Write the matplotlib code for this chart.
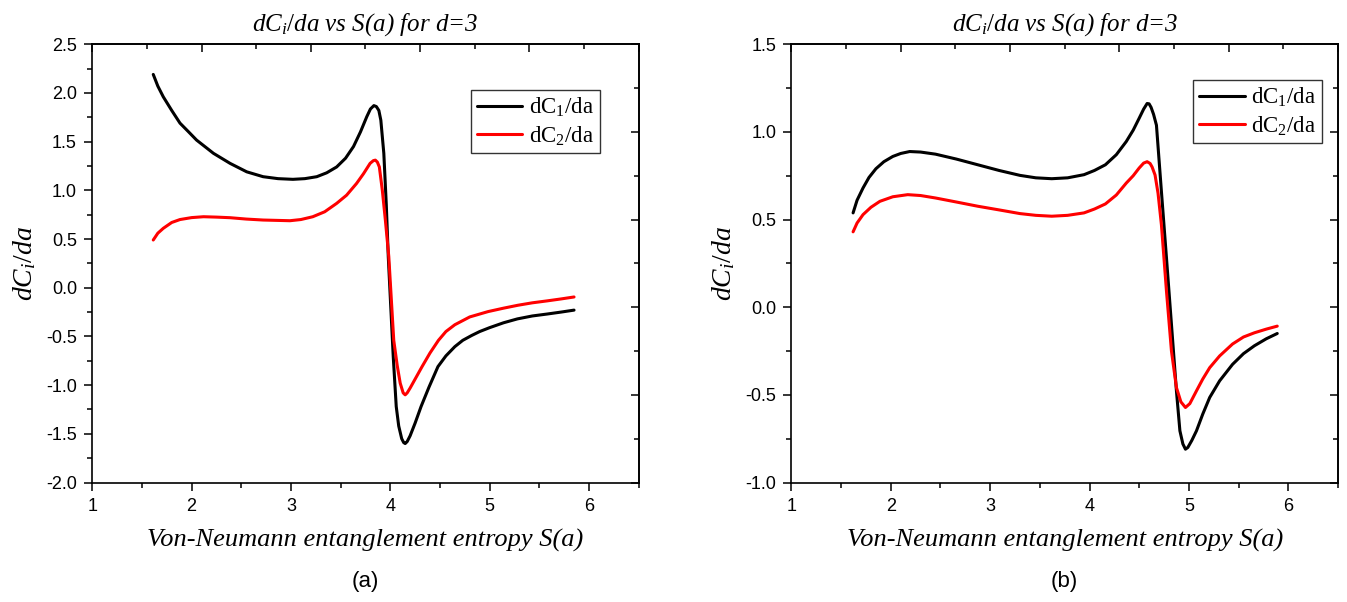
import matplotlib
matplotlib.use("Agg")
import matplotlib.pyplot as plt
from matplotlib.ticker import MultipleLocator, NullFormatter, FormatStrFormatter

plt.rcParams["mathtext.fontset"] = "custom"
plt.rcParams["mathtext.rm"] = "Liberation Serif"
plt.rcParams["mathtext.it"] = "Liberation Serif:italic"

# panel (a)
xa_c1 = [1.614, 1.66, 1.715, 1.80, 1.883, 1.97, 2.05, 2.22, 2.387, 2.555, 2.72, 2.87,
         3.02, 3.14, 3.26, 3.36, 3.46, 3.55, 3.63, 3.70, 3.763, 3.80, 3.835, 3.86, 3.885,
         3.905, 3.935, 3.96, 3.98, 4.03, 4.06, 4.085, 4.115, 4.135, 4.15, 4.17, 4.20, 4.25,
         4.31, 4.39, 4.48, 4.56, 4.65, 4.73, 4.82, 4.90, 5.0, 5.14, 5.28, 5.43, 5.58, 5.72,
         5.85]
ya_c1 = [2.19, 2.07, 1.96, 1.82, 1.69, 1.60, 1.516, 1.38, 1.277, 1.19, 1.14, 1.12,
         1.113, 1.12, 1.14, 1.18, 1.24, 1.33, 1.45, 1.60, 1.755, 1.835, 1.87, 1.86, 1.82,
         1.72, 1.38, 0.85, 0.315, -0.71, -1.22, -1.42, -1.55, -1.59, -1.60, -1.58, -1.52, -1.39,
         -1.22, -1.02, -0.81, -0.70, -0.605, -0.54, -0.49, -0.45, -0.41, -0.36, -0.32, -0.29,
         -0.27, -0.25, -0.23]
xa_c2 = [1.614, 1.66, 1.715, 1.80, 1.883, 2.0, 2.12, 2.25, 2.387, 2.55, 2.72, 2.99,
         3.10, 3.22, 3.34, 3.46, 3.56, 3.66, 3.73, 3.797, 3.83, 3.85, 3.87, 3.89, 3.92,
         3.95, 3.985, 4.035, 4.07, 4.10, 4.13, 4.15, 4.17, 4.20, 4.26, 4.32, 4.40, 4.485,
         4.56, 4.65, 4.80, 4.985, 5.14, 5.285, 5.43, 5.58, 5.72, 5.85]
ya_c2 = [0.49, 0.56, 0.61, 0.67, 0.70, 0.72, 0.729, 0.725, 0.719, 0.705, 0.695, 0.688,
         0.70, 0.729, 0.78, 0.866, 0.95, 1.07, 1.17, 1.277, 1.305, 1.31, 1.29, 1.24, 1.00,
         0.70, 0.32, -0.54, -0.80, -0.98, -1.08, -1.10, -1.08, -1.03, -0.92, -0.81, -0.67, -0.54,
         -0.45, -0.38, -0.30, -0.245, -0.21, -0.18, -0.155, -0.135, -0.115, -0.095]

# panel (b)
xb_c1 = [1.62, 1.66, 1.72, 1.78, 1.85, 1.93, 2.02, 2.10, 2.19, 2.30, 2.45, 2.66,
         2.875, 3.09, 3.30, 3.46, 3.62, 3.78, 3.945, 4.05, 4.16, 4.27, 4.37, 4.44, 4.50,
         4.545, 4.58, 4.60, 4.62, 4.645, 4.674, 4.724, 4.775, 4.825, 4.875, 4.91, 4.94,
         4.966, 4.99, 5.03, 5.077, 5.14, 5.21, 5.31, 5.44, 5.55, 5.66, 5.78, 5.89]
yb_c1 = [0.538, 0.61, 0.68, 0.74, 0.79, 0.83, 0.86, 0.877, 0.888, 0.885, 0.873, 0.845,
         0.8125, 0.78, 0.752, 0.738, 0.733, 0.738, 0.756, 0.78, 0.8125, 0.87, 0.945, 1.01, 1.078,
         1.13, 1.162, 1.16, 1.14, 1.10, 1.038, 0.66, 0.28, -0.098, -0.477, -0.705, -0.78,
         -0.81, -0.80, -0.76, -0.705, -0.61, -0.515, -0.42, -0.326, -0.265, -0.22, -0.18, -0.15]
xb_c2 = [1.62, 1.66, 1.72, 1.80, 1.89, 2.02, 2.17, 2.30, 2.45, 2.66, 2.875, 3.09,
         3.30, 3.46, 3.62, 3.78, 3.945, 4.05, 4.16, 4.27, 4.37, 4.44, 4.50, 4.545, 4.58,
         4.61, 4.63, 4.66, 4.69, 4.724, 4.775, 4.825, 4.875, 4.92, 4.966, 5.01, 5.077, 5.14,
         5.21, 5.31, 5.44, 5.55, 5.66, 5.78, 5.89]
yb_c2 = [0.43, 0.48, 0.528, 0.57, 0.604, 0.63, 0.642, 0.637, 0.623, 0.60, 0.576, 0.555,
         0.534, 0.524, 0.519, 0.524, 0.538, 0.56, 0.589, 0.64, 0.708, 0.75, 0.794, 0.822, 0.83,
         0.82, 0.80, 0.754, 0.65, 0.47, 0.09, -0.25, -0.458, -0.54, -0.572, -0.55, -0.477, -0.41,
         -0.345, -0.278, -0.21, -0.17, -0.146, -0.125, -0.108]

panels = [
    (xa_c1, ya_c1, xa_c2, ya_c2, (-2.0, 2.5), "(a)", (0.0685, 0.1985), (0.693, 0.895)),
    (xb_c1, yb_c1, xb_c2, yb_c2, (-1.0, 1.5), "(b)", (0.5876, 0.1985), (0.735, 0.918)),
]

fig = plt.figure(figsize=(13.47, 6.02), dpi=100)

serif = "Liberation Serif"
sans = "Liberation Sans"

for x1, y1, x2, y2, ylim, tag, (left, bottom), legpos in panels:
    ax = fig.add_axes([left, bottom, 0.4056, 0.728])
    ax.plot(x1, y1, color="black", lw=2.2, label=r"$\mathrm{dC_1/da}$",
            solid_joinstyle="round", solid_capstyle="round")
    ax.plot(x2, y2, color="red", lw=2.2, label=r"$\mathrm{dC_2/da}$",
            solid_joinstyle="round", solid_capstyle="round")
    ax.set_xlim(1, 6.5)
    ax.set_ylim(*ylim)
    ax.xaxis.set_major_locator(MultipleLocator(1))
    ax.xaxis.set_minor_locator(MultipleLocator(0.5))
    ax.yaxis.set_major_locator(MultipleLocator(0.5))
    ax.yaxis.set_minor_locator(MultipleLocator(0.25))
    ax.yaxis.set_major_formatter(FormatStrFormatter("%.1f"))
    ax.tick_params(which="major", direction="out", length=6, width=1.1,
                   labelsize=13, pad=5)
    ax.tick_params(which="minor", direction="out", length=3.5, width=1.1)
    for lab in ax.get_xticklabels() + ax.get_yticklabels():
        lab.set_fontfamily(sans)
    for sp in ax.spines.values():
        sp.set_linewidth(1.2)

    # mirrored axes on top and right with their own tick spacing
    lo, hi = ylim
    top = ax.secondary_xaxis("top", functions=(lambda v: (v - 1) / 0.55,
                                               lambda t: t * 0.55 + 1))
    right = ax.secondary_yaxis("right", functions=(lambda v, lo=lo, hi=hi: (v - lo) / (hi - lo) * 10,
                                                   lambda t, lo=lo, hi=hi: t / 10 * (hi - lo) + lo))
    for sec in (top, right):
        axis = sec.xaxis if sec is top else sec.yaxis
        axis.set_major_locator(MultipleLocator(2))
        axis.set_minor_locator(MultipleLocator(1))
        axis.set_major_formatter(NullFormatter())
        sec.tick_params(which="major", direction="in", length=6, width=1.1)
        sec.tick_params(which="minor", direction="in", length=3.5, width=1.1)
        for sp in sec.spines.values():
            sp.set_linewidth(1.2)

    ax.set_title(r"$dC_i/da$ vs S(a) for d=3", fontfamily=serif, fontstyle="italic",
                 fontsize=18, pad=10)
    ax.set_xlabel("Von-Neumann entanglement entropy S(a)", fontfamily=serif,
                  fontstyle="italic", fontsize=19, labelpad=10)
    ax.set_ylabel(r"$dC_i/da$", fontsize=20, labelpad=6)
    leg = ax.legend(loc="upper left", bbox_to_anchor=legpos, prop={"family": serif, "size": 16.5},
                    frameon=True, fancybox=False, edgecolor="black", handlelength=2.0,
                    handletextpad=0.3, borderpad=0.25, labelspacing=0.22, borderaxespad=0)
    leg.get_frame().set_linewidth(1.0)
    ax.text(0.5, -0.225, tag, transform=ax.transAxes, ha="center", va="center",
            fontfamily=sans, fontsize=16)

fig.savefig("out.png", dpi=100)
